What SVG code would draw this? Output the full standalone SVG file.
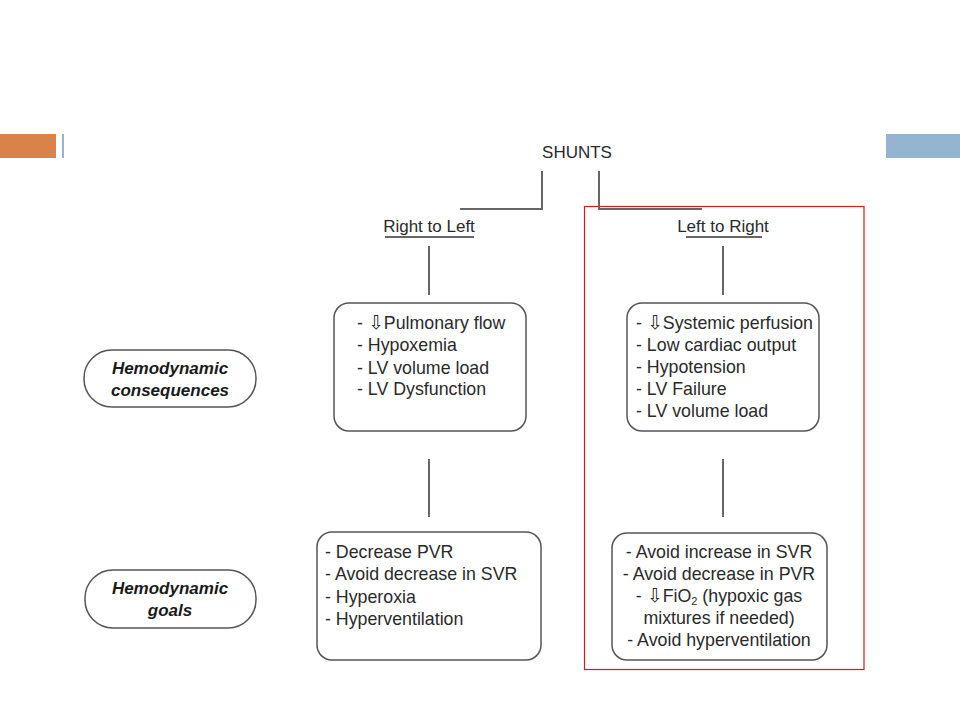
<svg xmlns="http://www.w3.org/2000/svg" width="960" height="720" viewBox="0 0 960 720">
<style>
  .t { font-family: "Liberation Sans", Arial, sans-serif; font-size: 17px; fill: #2a2a2a; }
  .b { font-size: 17.8px; }
  .lbl { font-family: "Liberation Sans", Arial, sans-serif; font-size: 17px; font-weight: bold; font-style: italic; fill: #1a1a1a; text-anchor: middle; }
  .box { fill: #ffffff; stroke: #555555; stroke-width: 1.5; }
  .con { fill: none; stroke: #666666; stroke-width: 2; }
  .ul { stroke: #333333; stroke-width: 1.5; }
  .arr { font-family: "DejaVu Sans", sans-serif; font-size: 19px; }
</style>
<rect width="960" height="720" fill="#ffffff"/>
<g id="decor">
  <rect x="0" y="134" width="56" height="24" fill="#d9824a"/>
  <rect x="62" y="134" width="2" height="24" fill="#9ab5cf"/>
  <rect x="886" y="134" width="74" height="24" fill="#94b4d2"/>
  <rect x="584.5" y="206.5" width="279.5" height="463" fill="none" stroke="#cc1f1f" stroke-width="1.2"/>
</g>
<g id="connectors">
  <path class="con" d="M542 171 V209 H460"/>
  <path class="con" d="M599 171 V209 H702"/>
  <line class="con" x1="429" y1="246" x2="429" y2="295"/>
  <line class="con" x1="723" y1="246" x2="723" y2="295"/>
  <line class="con" x1="429" y1="459" x2="429" y2="517"/>
  <line class="con" x1="723" y1="459" x2="723" y2="517"/>
</g>
<g id="shunts">
  <text class="t" x="577" y="158" text-anchor="middle">SHUNTS</text>
</g>
<g id="right-to-left">
  <text class="t" x="429" y="232" text-anchor="middle">Right to Left</text>
  <line class="ul" x1="385" y1="237" x2="474" y2="237"/>
</g>
<g id="left-to-right">
  <text class="t" x="723" y="232" text-anchor="middle">Left to Right</text>
  <line class="ul" x1="686" y1="237" x2="762" y2="237"/>
</g>
<g id="rl-consequences">
  <rect class="box" x="334" y="303" width="192" height="128" rx="15"/>
  <text class="t b" x="357" y="329">- <tspan class="arr">⇩</tspan>Pulmonary flow</text>
  <text class="t b" x="357" y="351">- Hypoxemia</text>
  <text class="t b" x="357" y="374">- LV volume load</text>
  <text class="t b" x="357" y="395">- LV Dysfunction</text>
</g>
<g id="lr-consequences">
  <rect class="box" x="627" y="303" width="192" height="128" rx="15"/>
  <text class="t b" x="636" y="329">- <tspan class="arr">⇩</tspan>Systemic perfusion</text>
  <text class="t b" x="636" y="351">- Low cardiac output</text>
  <text class="t b" x="636" y="373">- Hypotension</text>
  <text class="t b" x="636" y="395">- LV Failure</text>
  <text class="t b" x="636" y="417">- LV volume load</text>
</g>
<g id="rl-goals">
  <rect class="box" x="317" y="532" width="224" height="128" rx="15"/>
  <text class="t b" x="325" y="558">- Decrease PVR</text>
  <text class="t b" x="325" y="580">- Avoid decrease in SVR</text>
  <text class="t b" x="325" y="603">- Hyperoxia</text>
  <text class="t b" x="325" y="625">- Hyperventilation</text>
</g>
<g id="lr-goals">
  <rect class="box" x="612" y="533" width="215" height="127" rx="15"/>
  <text class="t b" x="719" y="558" text-anchor="middle">- Avoid increase in SVR</text>
  <text class="t b" x="719" y="580" text-anchor="middle">- Avoid decrease in PVR</text>
  <text class="t b" x="719" y="602" text-anchor="middle">- <tspan class="arr">⇩</tspan>FiO<tspan font-size="11" dy="3">2</tspan><tspan dy="-3"> (hypoxic gas</tspan></text>
  <text class="t b" x="719" y="624" text-anchor="middle">mixtures if needed)</text>
  <text class="t b" x="719" y="646" text-anchor="middle">- Avoid hyperventilation</text>
</g>
<g id="hemo-consequences">
  <rect class="box" x="84" y="350" width="172" height="57" rx="28"/>
  <text class="lbl" x="170" y="374">Hemodynamic</text>
  <text class="lbl" x="170" y="396">consequences</text>
</g>
<g id="hemo-goals">
  <rect class="box" x="85" y="570" width="171" height="58" rx="28"/>
  <text class="lbl" x="170" y="594">Hemodynamic</text>
  <text class="lbl" x="170" y="616">goals</text>
</g>
</svg>
